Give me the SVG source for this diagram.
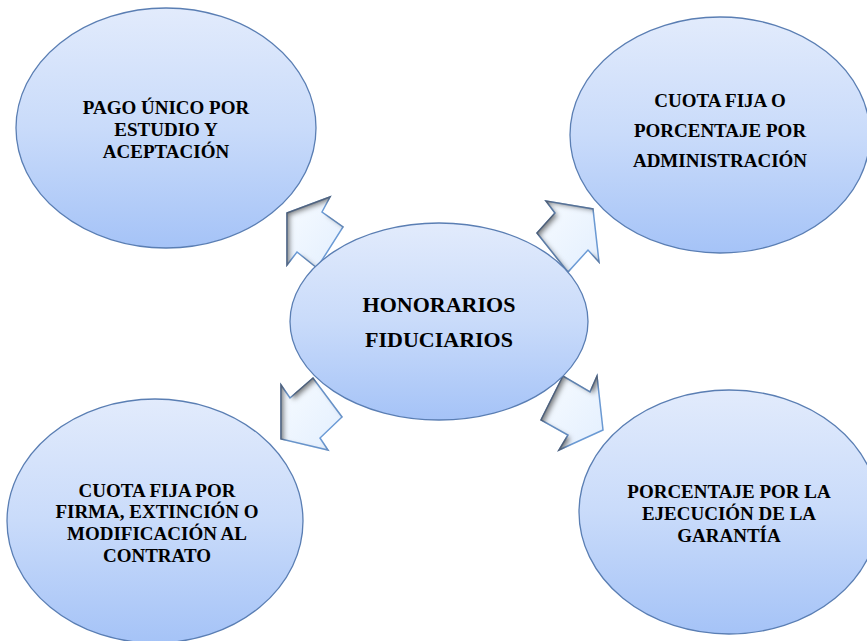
<svg xmlns="http://www.w3.org/2000/svg" width="867" height="641" viewBox="0 0 867 641">
<defs>
<linearGradient id="ellGrad" x1="0" y1="0" x2="0" y2="1">
<stop offset="0" stop-color="#e2ebfc"/>
<stop offset="0.5" stop-color="#c9dbfa"/>
<stop offset="1" stop-color="#a5c3f7"/>
</linearGradient>
<linearGradient id="arrGrad" x1="0" y1="0" x2="1" y2="1">
<stop offset="0" stop-color="#f7fbff"/>
<stop offset="1" stop-color="#e3effe"/>
</linearGradient>
<filter id="inner" x="-20%" y="-20%" width="140%" height="140%">
<feComponentTransfer in="SourceAlpha"><feFuncA type="table" tableValues="1 0"/></feComponentTransfer>
<feGaussianBlur stdDeviation="2.5"/>
<feOffset dx="4" dy="3" result="off"/>
<feFlood flood-color="#4a4a4a" flood-opacity="0.85"/>
<feComposite in2="off" operator="in"/>
<feComposite in2="SourceAlpha" operator="in" result="shadow"/>
<feMerge><feMergeNode in="SourceGraphic"/><feMergeNode in="shadow"/></feMerge>
</filter>
</defs>
<style>
.ell{fill:url(#ellGrad);stroke:#5a7eb3;stroke-width:1.3}
.arr{fill:url(#arrGrad);stroke:#6c9bd6;stroke-width:1.5;stroke-linejoin:miter;filter:url(#inner)}
.lbl{font-family:"Liberation Serif","Times New Roman",serif;font-weight:bold;font-size:19px;fill:#000;text-anchor:middle}
.big{font-size:22px}
</style>
<rect width="867" height="641" fill="#ffffff"/>
<g id="connectors">
<polygon class="arr" points="287,213 330,197 322,212 343,227 317,268 297,252 287,265"/>
<polygon class="arr" points="593,209 599,262 588,250 568,272 537,233 555,213 546,201"/>
<polygon class="arr" points="281,439 281,385 290,398 313,378 342,417 320,438 328,450"/>
<polygon class="arr" points="603,430 559,450 568,435 541,420 563,376 590,392 597,376"/>
</g>
<g id="node-top-left">
<ellipse class="ell" cx="166" cy="128" rx="150" ry="120"/>
<text class="lbl" x="166" y="114">PAGO ÚNICO POR</text>
<text class="lbl" x="166" y="136">ESTUDIO Y</text>
<text class="lbl" x="166" y="158">ACEPTACIÓN</text>
</g>
<g id="node-top-right">
<ellipse class="ell" cx="720" cy="135" rx="150" ry="118"/>
<text class="lbl" x="720" y="107">CUOTA FIJA O</text>
<text class="lbl" x="720" y="137">PORCENTAJE POR</text>
<text class="lbl" x="720" y="167">ADMINISTRACIÓN</text>
</g>
<g id="node-bottom-left">
<ellipse class="ell" cx="155" cy="521" rx="148" ry="122"/>
<text class="lbl" x="157" y="497">CUOTA FIJA POR</text>
<text class="lbl" x="157" y="518">FIRMA, EXTINCIÓN O</text>
<text class="lbl" x="157" y="540">MODIFICACIÓN AL</text>
<text class="lbl" x="157" y="562">CONTRATO</text>
</g>
<g id="node-bottom-right">
<ellipse class="ell" cx="729" cy="512" rx="150" ry="122"/>
<text class="lbl" x="729" y="498">PORCENTAJE POR LA</text>
<text class="lbl" x="729" y="520">EJECUCIÓN DE LA</text>
<text class="lbl" x="729" y="542">GARANTÍA</text>
</g>
<g id="node-center">
<ellipse class="ell" cx="439" cy="321.5" rx="149" ry="98.5"/>
<text class="lbl big" x="439" y="312">HONORARIOS</text>
<text class="lbl big" x="439" y="347">FIDUCIARIOS</text>
</g>
</svg>
